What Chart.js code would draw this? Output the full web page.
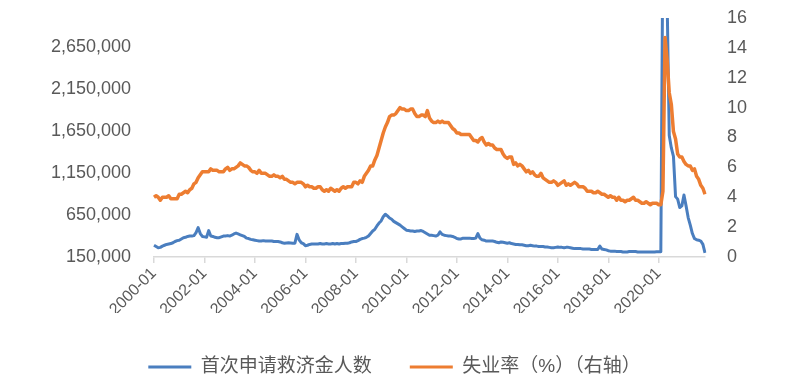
<!DOCTYPE html>
<html><head><meta charset="utf-8">
<script src="https://cdn.jsdelivr.net/npm/chart.js@4/dist/chart.umd.min.js"></script>
<style>html,body{margin:0;padding:0;background:#fff}#wrap{width:789px;height:380px}</style>
</head><body><div id="wrap"><canvas id="c" width="789" height="380"></canvas></div>
<script>
// Monthly series, 2000-01 .. 2021-11
const claims = [
290000,275000,260000,265000,280000,290000,300000,305000,310000,320000,335000,345000,
350000,365000,380000,385000,395000,400000,400000,405000,440000,500000,430000,395000,
390000,385000,465000,400000,395000,385000,380000,380000,390000,400000,400000,405000,
400000,410000,425000,435000,425000,415000,405000,395000,375000,370000,360000,355000,
350000,345000,340000,340000,345000,340000,340000,340000,340000,335000,335000,335000,
330000,320000,315000,318000,320000,318000,315000,315000,420000,355000,320000,310000,
285000,290000,300000,305000,305000,305000,305000,310000,305000,305000,310000,305000,
305000,310000,305000,310000,305000,310000,310000,315000,315000,320000,330000,335000,
335000,345000,360000,370000,375000,385000,400000,430000,460000,480000,520000,555000,
580000,630000,660000,640000,615000,600000,575000,560000,545000,530000,510000,490000,
470000,465000,460000,460000,455000,460000,460000,465000,455000,440000,425000,410000,
410000,405000,400000,410000,450000,420000,410000,405000,400000,400000,395000,385000,
370000,365000,365000,375000,375000,375000,375000,370000,370000,375000,430000,375000,
355000,350000,340000,340000,340000,340000,335000,325000,320000,330000,325000,320000,
315000,320000,310000,305000,300000,300000,295000,295000,290000,285000,285000,290000,
285000,280000,280000,275000,275000,275000,270000,270000,265000,260000,260000,265000,
270000,265000,265000,260000,265000,265000,260000,255000,250000,250000,250000,250000,
245000,245000,245000,245000,240000,240000,240000,240000,280000,245000,240000,235000,
225000,220000,220000,220000,215000,215000,215000,210000,210000,210000,215000,215000,
215000,215000,210000,210000,210000,210000,210000,210000,210000,210000,210000,212000,
212000,212000,4000000,6000000,3200000,1600000,1450000,1350000,870000,840000,740000,760000,
890000,760000,620000,530000,430000,370000,355000,350000,340000,300000,200000
];
const unemployment = [
4.0,4.1,4.0,3.8,4.0,4.0,4.0,4.1,3.9,3.9,3.9,3.9,
4.2,4.2,4.3,4.4,4.3,4.5,4.6,4.9,5.0,5.3,5.5,5.7,
5.7,5.7,5.7,5.9,5.8,5.8,5.8,5.7,5.7,5.7,5.9,6.0,
5.8,5.9,5.9,6.0,6.1,6.3,6.2,6.1,6.1,6.0,5.8,5.7,
5.7,5.6,5.8,5.6,5.6,5.6,5.5,5.4,5.4,5.5,5.4,5.4,
5.3,5.4,5.2,5.2,5.1,5.0,5.0,4.9,5.0,5.0,5.0,4.9,
4.7,4.8,4.7,4.7,4.6,4.6,4.7,4.7,4.5,4.4,4.5,4.4,
4.6,4.5,4.4,4.5,4.4,4.6,4.7,4.6,4.7,4.7,4.7,5.0,
5.0,4.9,5.1,5.0,5.4,5.6,5.8,6.1,6.1,6.5,6.8,7.3,
7.8,8.3,8.7,9.0,9.4,9.5,9.5,9.6,9.8,10.0,9.9,9.9,
9.8,9.8,9.9,9.9,9.6,9.4,9.4,9.5,9.5,9.4,9.8,9.3,
9.1,9.0,9.0,9.1,9.0,9.1,9.0,9.0,9.0,8.8,8.6,8.5,
8.3,8.3,8.2,8.2,8.2,8.2,8.2,8.0,7.8,7.8,7.7,7.9,
8.0,7.7,7.5,7.6,7.5,7.5,7.3,7.2,7.2,7.2,6.9,6.7,
6.6,6.7,6.7,6.2,6.3,6.1,6.2,6.1,5.9,5.7,5.8,5.6,
5.7,5.5,5.4,5.4,5.6,5.3,5.2,5.1,5.0,5.0,5.1,5.0,
4.8,4.9,5.0,5.1,4.8,4.9,4.8,4.9,5.0,4.9,4.7,4.7,
4.7,4.6,4.4,4.4,4.4,4.3,4.3,4.4,4.3,4.2,4.2,4.1,
4.0,4.1,4.0,4.0,3.8,4.0,3.8,3.8,3.7,3.8,3.8,3.9,
4.0,3.8,3.8,3.7,3.6,3.6,3.7,3.6,3.5,3.6,3.6,3.6,
3.5,3.5,4.4,14.7,13.2,11.0,10.2,8.4,7.9,6.9,6.7,6.7,
6.4,6.2,6.1,6.1,5.8,5.9,5.4,5.2,4.8,4.6,4.2
];
const startYear = 2000;
const months = [];
for (let i = 0; i < claims.length; i++) {
  months.push((startYear + Math.floor(i / 12)) + '-' + String(i % 12 + 1).padStart(2, '0'));
}
const xTickLabels = ['2000-01','2002-01','2004-01','2006-01','2008-01','2010-01','2012-01','2014-01','2016-01','2018-01','2020-01'];
const leftTicks = [150000, 650000, 1150000, 1650000, 2150000, 2650000];
const rightTicks = [0, 2, 4, 6, 8, 10, 12, 14, 16];
const seriesNames = ['首次申请救济金人数', '失业率（%）（右轴）'];

const FONT = "'Liberation Sans', 'Noto Sans CJK SC', sans-serif";
const TXT = '#595959';
const BLUE = '#4a7ebf';
const ORANGE = '#ed7d31';
const LEGEND_CENTER_Y = 367;

const legendShift = {
  id: 'legendShift',
  afterLayout(chart) {
    const lg = chart.legend;
    if (!lg) return;
    const pad = lg.options.labels.padding;
    const fs = lg.options.labels.font.size;
    const newTop = LEGEND_CENTER_Y - fs / 2 - pad;
    const d = newTop - lg.top;
    lg.top += d; lg.bottom += d;
  }
};

new Chart(document.getElementById('c'), {
  type: 'line',
  data: {
    labels: months,
    datasets: [
      { label: seriesNames[0], data: claims, yAxisID: 'y', borderColor: BLUE, backgroundColor: BLUE,
        borderWidth: 3, pointRadius: 0, tension: 0, borderJoinStyle: 'round', order: 2 },
      { label: seriesNames[1], data: unemployment, yAxisID: 'y1', borderColor: ORANGE, backgroundColor: ORANGE,
        borderWidth: 3.5, pointRadius: 0, tension: 0, borderJoinStyle: 'round', order: 1 }
    ]
  },
  plugins: [legendShift],
  options: {
    responsive: false,
    animation: false,
    devicePixelRatio: 1,
    layout: { padding: { top: 18, left: 0, right: 0, bottom: 0 } },
    plugins: {
      tooltip: { enabled: false },
      legend: {
        position: 'bottom',
        labels: {
          font: { family: FONT, size: 19 },
          color: TXT,
          boxWidth: 43,
          boxHeight: 3,
          padding: 38,
          sort: (a, b) => a.datasetIndex - b.datasetIndex,
          generateLabels(chart) {
            const items = Chart.defaults.plugins.legend.labels.generateLabels(chart);
            items.forEach(it => { it.lineWidth = 0; it.fillStyle = it.strokeStyle; });
            return items;
          }
        }
      }
    },
    scales: {
      x: {
        type: 'category',
        offset: false,
        grid: { display: true, drawOnChartArea: false, drawTicks: true, tickLength: 6, color: '#d9d9d9', lineWidth: 1.5 },
        border: { display: true, color: '#d9d9d9', width: 1.5 },
        ticks: {
          autoSkip: false, maxRotation: 45, minRotation: 45, padding: 1,
          color: TXT, font: { family: FONT, size: 16 },
          callback(v, i) { const l = months[i]; return xTickLabels.includes(l) ? l : null; }
        },
        afterFit(s) { s.height = 56; }
      },
      y: {
        position: 'left',
        min: 150000, max: 3000000,
        afterBuildTicks(s) { s.ticks = leftTicks.map(v => ({ value: v })); },
        grid: { display: false, drawTicks: true, tickLength: 20 },
        border: { display: false },
        ticks: { color: TXT, font: { family: FONT, size: 18 }, padding: 3,
          callback: v => Number(v).toLocaleString('en-US') },
        afterFit(s) { s.width = 154; }
      },
      y1: {
        position: 'right',
        min: 0, max: 16,
        afterBuildTicks(s) { s.ticks = rightTicks.map(v => ({ value: v })); },
        grid: { display: false, drawTicks: true, tickLength: 20 },
        border: { display: false },
        ticks: { color: TXT, font: { family: FONT, size: 18 }, padding: 2 },
        afterFit(s) { s.width = 84; }
      }
    }
  }
});
</script>
</body></html>
